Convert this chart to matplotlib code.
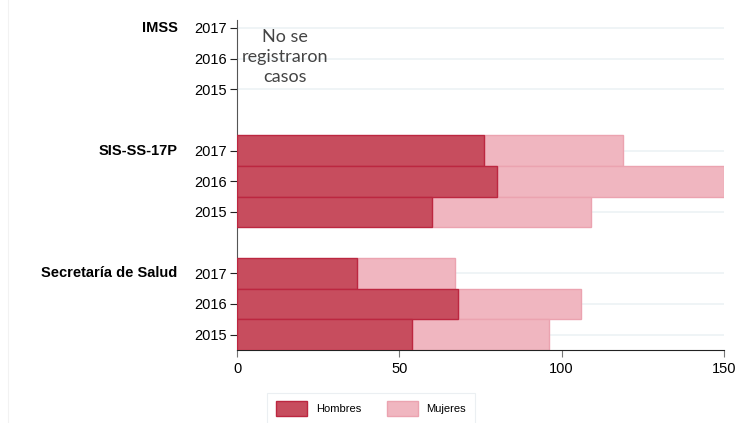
import matplotlib.pyplot as plt
from matplotlib.patches import Patch
from matplotlib.lines import Line2D

# data
groups = ['IMSS', 'SIS-SS-17P', 'Secretaría de Salud']
years = ['2017', '2016', '2015']
hombres = [[0, 0, 0], [76, 80, 60], [37, 68, 54]]
mujeres = [[0, 0, 0], [43, 70, 49], [30, 38, 42]]

c_h, e_h = '#C74D5E', '#BC2740'
c_m, e_m = '#F0B6C0', '#EBA3B0'

plt.rcParams['font.family'] = ['Liberation Sans', 'DejaVu Sans']

fig = plt.figure(figsize=(7.38, 4.23), dpi=100)
ax = fig.add_axes([237 / 738, 1 - 350 / 423, (724 - 237) / 738, 330 / 423])

ypos, ylabels = [], []
for g, name in enumerate(groups):
    for i, yr in enumerate(years):
        y = g * 4 + i
        ypos.append(y)
        ylabels.append(yr)
        h = hombres[g][i]
        m = mujeres[g][i]
        if h + m == 0:
            continue
        ax.barh(y, h, height=1.0, color=c_h, edgecolor=e_h, linewidth=1.0, zorder=3)
        ax.barh(y, m, left=h, height=1.0, color=c_m, edgecolor=e_m, linewidth=1.0, zorder=2)
    ax.text(-0.122, g * 4, name, transform=ax.get_yaxis_transform(),
            ha='right', va='center', fontsize=10.5, fontweight='bold')

ax.set_yticks(ypos)
ax.set_yticklabels(ylabels, fontsize=10.5)
ax.set_ylim(10.5, -0.26)
ax.set_xlim(0, 150)
ax.set_xticks([0, 50, 100, 150])
ax.tick_params(axis='x', labelsize=10.5, length=5, width=0.8, color='#777777')
ax.tick_params(axis='y', length=5, width=0.8, pad=2, color='#222222')
ax.grid(axis='y', color='#EEF3F6', linewidth=1.3, zorder=0)
ax.set_axisbelow(True)
for s in ['top', 'right']:
    ax.spines[s].set_visible(False)
ax.spines['left'].set_color('#555555')
ax.spines['bottom'].set_color('#222222')

ax.text(14.8, 0.95, 'No se\nregistraron\ncasos', ha='center', va='center', fontsize=13,
        color='#444444', family=['Lato', 'DejaVu Sans'], linespacing=1.3)

handles = [Patch(facecolor=c_h, edgecolor=e_h, label='Hombres'),
           Patch(facecolor=c_m, edgecolor=e_m, label='Mujeres')]
leg = fig.legend(handles=handles, loc='upper center', bbox_to_anchor=(371 / 738, 1 - 387 / 423),
                 ncol=2, fontsize=8, frameon=True, fancybox=False, handlelength=2.8,
                 handleheight=1.6, columnspacing=2.3, handletextpad=0.8, borderpad=0.8)
leg.get_frame().set_edgecolor('#E6ECEF')
leg.get_frame().set_linewidth(0.8)

fig.add_artist(Line2D([8 / 738, 8 / 738], [0, 1], color='#F2F2F2', linewidth=0.8))

fig.savefig('out.png', dpi=100)
